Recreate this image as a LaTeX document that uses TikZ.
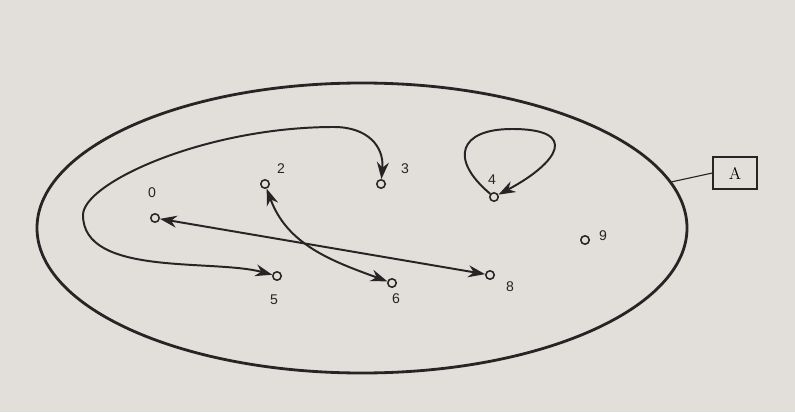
\documentclass[tikz,border=0pt]{standalone}
\usepackage{fontspec}
\setsansfont{Liberation Sans}
\usetikzlibrary{arrows.meta}

\definecolor{paper}{RGB}{226,222,217}
\definecolor{ink}{RGB}{38,36,36}

\begin{document}
\begin{tikzpicture}[x=0.25cm, y=0.25cm,
    elem/.style={circle, draw=ink, fill=paper, line width=1.1pt, minimum size=6pt, inner sep=0pt},
    num/.style={font=\sffamily, text=ink},
    rel/.style={ink, line width=1.4pt, {Stealth[length=12pt, width=8.5pt]}-{Stealth[length=12pt, width=8.5pt]}},
    self/.style={ink, line width=1.4pt, -{Stealth[length=12pt, width=8.5pt]}}]

    \fill[paper] (0,0) rectangle (79.5,41.2);
    \useasboundingbox (0,0) rectangle (79.5,41.2);

    % the set A
    \draw[ink, line width=2pt] (36.2,18.4) ellipse [x radius=8.125cm, y radius=3.625cm];
    \node[draw=ink, line width=0.9pt, minimum width=1.1cm, minimum height=0.8cm, font=\large] (setA) at (73.5,23.9) {A};
    \coordinate (rim) at (67.1,23.0);
    \draw[ink, line width=0.8pt] (setA.west) -- (rim);

    % elements
    \foreach \n/\x/\y/\dx/\dy in {0/15.5/19.4/-0.3/2.5, 2/26.5/22.8/1.6/1.5, 3/38.1/22.8/2.4/1.5,
                                 4/49.4/21.5/-0.2/1.7, 5/27.7/13.6/-0.3/-2.4, 6/39.2/12.9/0.4/-1.6,
                                 8/49.0/13.7/2.0/-1.2, 9/58.5/17.2/1.8/0.4}
    {
        \node[elem] (n\n) at (\x,\y) {};
        \node[num] (l\n) at (\x+\dx,\y+\dy) {\n};
    }

    % the relation
    \draw[rel] (n0) -- (n8);
    \draw[rel] (n2) to[out=-70, in=160] (n6);

    \coordinate (c1) at (33.4,28.5);
    \coordinate (c3) at (8.3,19.7);
    \draw[rel] (n3) to[out=85, in=0, looseness=1.2] (c1)
        .. controls (20.5,28.5) and (8.3,22.9) .. (c3)
        to[out=-90, in=165, looseness=0.8] (n5);

    \coordinate (c4) at (51.2,28.3);
    \draw[self] (n4) to[out=140, in=180, looseness=2.0] (c4) to[out=0, in=28, looseness=2.6] (n4);
\end{tikzpicture}
\end{document}
